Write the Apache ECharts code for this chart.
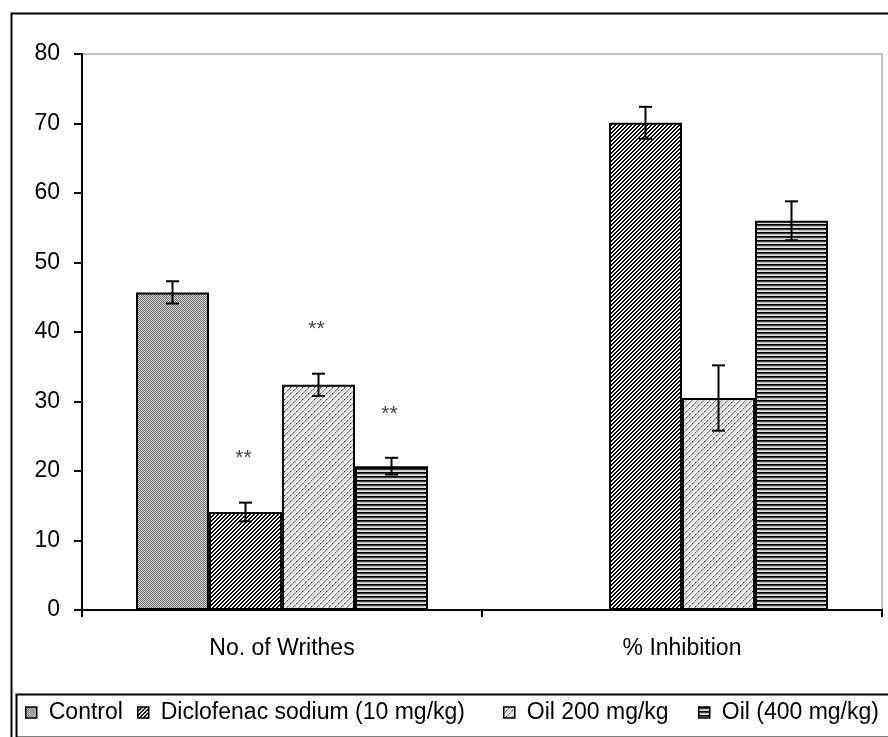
<!DOCTYPE html>
<html>
<head>
<meta charset="utf-8">
<script src="https://cdn.jsdelivr.net/npm/echarts@6/dist/echarts.min.js"></script>
<style>
html,body{margin:0;padding:0;background:#fff;}
#chart{width:888px;height:737px;}
</style>
</head>
<body>
<div id="chart"></div>
<script>
// ---- data ----
const categories = ['No. of Writhes', '% Inhibition'];
const seriesNames = ['Control', 'Diclofenac sodium (10 mg/kg)', 'Oil 200 mg/kg', 'Oil (400 mg/kg)'];
const controlValues    = [45.7, null];
const diclofenacValues = [14.1, 70.1];
const oil200Values     = [32.4, 30.5];
const oil400Values     = [20.7, 56.0];
const controlErrors    = [1.6, null];
const diclofenacErrors = [1.35, 2.3];
const oil200Errors     = [1.6, 4.7];
const oil400Errors     = [1.2, 2.8];
const controlMarks     = ['', ''];
const diclofenacMarks  = ['**', ''];
const oil200Marks      = ['**', ''];
const oil400Marks      = ['**', ''];
const yTicks = [0, 10, 20, 30, 40, 50, 60, 70, 80];

const values = [controlValues, diclofenacValues, oil200Values, oil400Values];
const errors = [controlErrors, diclofenacErrors, oil200Errors, oil400Errors];
const marks = [controlMarks, diclofenacMarks, oil200Marks, oil400Marks];

// ---- patterns ----
function makeTile(w, h, draw) {
  const c = document.createElement('canvas');
  c.width = w; c.height = h;
  const ctx = c.getContext('2d');
  draw(ctx);
  return c;
}
function px(ctx, x, y, col) { ctx.fillStyle = col; ctx.fillRect(x, y, 1, 1); }

const patControl = makeTile(2, 2, ctx => {
  ctx.fillStyle = '#d4d4d4'; ctx.fillRect(0, 0, 2, 2);
  px(ctx, 0, 0, '#707070'); px(ctx, 1, 1, '#707070');
});
const patDiclo = makeTile(4, 4, ctx => {
  ctx.fillStyle = '#ffffff'; ctx.fillRect(0, 0, 4, 4);
  for (let y = 0; y < 4; y++) {
    const x0 = (3 - y + 4) % 4;
    px(ctx, x0, y, '#000'); px(ctx, (x0 + 1) % 4, y, '#000');
  }
});
const patOil200 = makeTile(6, 6, ctx => {
  ctx.fillStyle = '#ffffff'; ctx.fillRect(0, 0, 6, 6);
  for (let y = 0; y < 6; y++) {
    const x0 = (5 - y + 6) % 6;
    px(ctx, x0, y, '#9a9a9a'); px(ctx, (x0 + 1) % 6, y, '#b8b8b8');
    px(ctx, (x0 + 3) % 6, y, '#cfcfcf');
  }
  px(ctx, 2, 3, '#333'); px(ctx, 5, 0, '#555');
});
const patOil400 = makeTile(4, 4, ctx => {
  const rows = ['#000000', '#3a3a3a', '#c4c4c4', '#dedede'];
  rows.forEach((c, y) => { ctx.fillStyle = c; ctx.fillRect(0, y, 4, 1); });
});
const patterns = [patControl, patDiclo, patOil200, patOil400];

const FONT = '"Liberation Sans", Arial, sans-serif';
const CAT_GAP = 0.27;

const barSeries = seriesNames.map((name, i) => ({
  name: name,
  type: 'bar',
  barGap: '0%',
  barCategoryGap: (CAT_GAP * 100) + '%',
  data: values[i].map(v => (v === null ? '-' : v)),
  itemStyle: {
    color: { image: patterns[i], repeat: 'repeat' },
    borderColor: '#000',
    borderWidth: 2
  },
  emphasis: { disabled: true },
  animation: false,
  z: 2
}));

// error bars + significance marks
const errData = [];
seriesNames.forEach((n, si) => {
  categories.forEach((c, ci) => {
    if (values[si][ci] !== null) {
      errData.push([ci, values[si][ci], errors[si][ci], si, marks[si][ci]]);
    }
  });
});

const errSeries = {
  type: 'custom',
  name: 'errors',
  data: errData,
  z: 5,
  silent: true,
  animation: false,
  encode: { x: 0, y: 1 },
  renderItem: function (params, api) {
    const ci = api.value(0), v = api.value(1), e = api.value(2), si = api.value(3);
    const mark = errData[params.dataIndex][4];
    const band = api.size([1, 0])[0];
    const bw = band * (1 - CAT_GAP) / seriesNames.length;
    const center = api.coord([ci, 0])[0];
    const x = center + (si - (seriesNames.length - 1) / 2) * bw;
    const top = api.coord([ci, v + e])[1];
    const bot = api.coord([ci, v - e])[1];
    const cap = 6.5;
    const st = { stroke: '#000', lineWidth: 2 };
    const children = [
      { type: 'line', shape: { x1: x, y1: top, x2: x, y2: bot }, style: st },
      { type: 'line', shape: { x1: x - cap, y1: top, x2: x + cap, y2: top }, style: st },
      { type: 'line', shape: { x1: x - cap, y1: bot, x2: x + cap, y2: bot }, style: st }
    ];
    if (mark) {
      children.push({
        type: 'text',
        style: {
          text: mark, x: x - 2, y: top - 44,
          align: 'center', verticalAlign: 'middle',
          font: '21px ' + FONT, fill: '#444'
        }
      });
    }
    return { type: 'group', children: children };
  }
};

// one legend block per item so each sits where the reference puts it
const legendLefts = [25, 137, 503, 698];
const legends = seriesNames.map((name, i) => ({
  data: [name],
  left: legendLefts[i], top: 701,
  padding: 0,
  itemWidth: 11, itemHeight: 11,
  icon: 'rect',
  textStyle: { fontSize: 23, color: '#000', fontFamily: FONT, padding: [0, 0, 0, 7] },
  itemStyle: { borderColor: '#000', borderWidth: 1.5 },
  selectedMode: false
}));

const chart = echarts.init(document.getElementById('chart'), null, { renderer: 'canvas' });
chart.setOption({
  backgroundColor: '#ffffff',
  animation: false,
  textStyle: { fontFamily: FONT },
  grid: {
    left: 82, right: 6, top: 54, bottom: 127,
    show: true, borderColor: '#808080', borderWidth: 1, backgroundColor: 'transparent'
  },
  legend: legends,
  xAxis: {
    type: 'category',
    data: categories,
    axisLine: { lineStyle: { color: '#000', width: 2 } },
    axisTick: { show: true, length: 7, lineStyle: { color: '#000', width: 2 }, alignWithLabel: false },
    axisLabel: { color: '#000', fontSize: 23, margin: 27, fontFamily: FONT },
    splitLine: { show: false }
  },
  yAxis: {
    type: 'value',
    min: 0, max: 80, interval: 10,
    axisLine: { show: true, lineStyle: { color: '#000', width: 2 } },
    axisTick: { show: true, length: 8, lineStyle: { color: '#000', width: 2 } },
    axisLabel: {
      color: '#000', fontSize: 23, margin: 22, fontFamily: FONT,
      formatter: v => (yTicks.indexOf(v) >= 0 ? String(v) : '')
    },
    splitLine: { show: false }
  },
  graphic: [
    { type: 'rect', left: 9, top: 11, shape: { x: 0, y: 0, width: 900, height: 740 },
      style: { fill: 'none', stroke: '#000', lineWidth: 2 }, z: 100, silent: true },
    { type: 'rect', left: 14, top: 692, shape: { x: 0, y: 0, width: 890, height: 43 },
      style: { fill: 'none', stroke: '#000', lineWidth: 2 }, z: 100, silent: true }
  ],
  series: barSeries.concat([errSeries])
});
</script>
</body>
</html>
